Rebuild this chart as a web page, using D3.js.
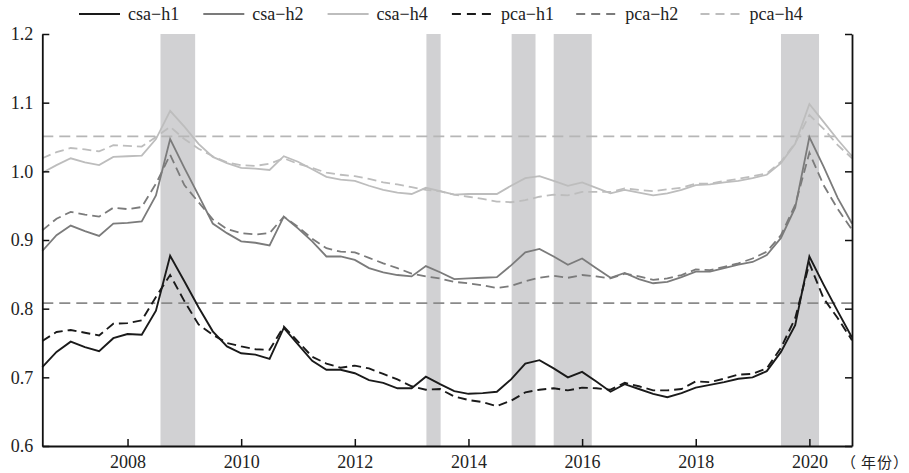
<!DOCTYPE html>
<html>
<head>
<meta charset="utf-8">
<script src="https://cdn.jsdelivr.net/npm/d3@7"></script>
<style>
  html, body { margin: 0; padding: 0; background: #fff; }
  svg { display: block; }
</style>
</head>
<body>
<svg id="chart" width="909" height="473"></svg>
<script>
// Quarterly observations
const quarters = [
  "2006Q3","2006Q4",
  "2007Q1","2007Q2","2007Q3","2007Q4",
  "2008Q1","2008Q2","2008Q3","2008Q4",
  "2009Q1","2009Q2","2009Q3","2009Q4",
  "2010Q1","2010Q2","2010Q3","2010Q4",
  "2011Q1","2011Q2","2011Q3","2011Q4",
  "2012Q1","2012Q2","2012Q3","2012Q4",
  "2013Q1","2013Q2","2013Q3","2013Q4",
  "2014Q1","2014Q2","2014Q3","2014Q4",
  "2015Q1","2015Q2","2015Q3","2015Q4",
  "2016Q1","2016Q2","2016Q3","2016Q4",
  "2017Q1","2017Q2","2017Q3","2017Q4",
  "2018Q1","2018Q2","2018Q3","2018Q4",
  "2019Q1","2019Q2","2019Q3","2019Q4",
  "2020Q1","2020Q2","2020Q3","2020Q4"
];

const csaH1 = [0.715,0.737,0.752,0.744,0.738,0.757,0.763,0.762,0.797,0.877,0.840,0.802,0.767,0.745,0.735,0.733,0.727,0.772,0.748,0.724,0.711,0.711,0.706,0.696,0.692,0.684,0.684,0.701,0.690,0.680,0.676,0.677,0.679,0.697,0.720,0.725,0.713,0.700,0.708,0.694,0.679,0.690,0.683,0.676,0.671,0.677,0.685,0.689,0.693,0.698,0.700,0.709,0.737,0.776,0.876,0.835,0.796,0.758];
const csaH2 = [0.884,0.907,0.921,0.913,0.906,0.924,0.925,0.927,0.965,1.047,1.005,0.965,0.924,0.910,0.898,0.896,0.892,0.934,0.917,0.898,0.876,0.876,0.871,0.859,0.853,0.849,0.847,0.862,0.853,0.843,0.844,0.845,0.846,0.863,0.882,0.887,0.876,0.864,0.873,0.859,0.845,0.852,0.843,0.837,0.839,0.846,0.854,0.854,0.859,0.864,0.868,0.878,0.903,0.947,1.050,1.007,0.961,0.924];
const csaH4 = [0.998,1.009,1.019,1.013,1.009,1.021,1.022,1.023,1.047,1.088,1.065,1.040,1.021,1.012,1.005,1.004,1.002,1.022,1.014,1.003,0.992,0.988,0.986,0.979,0.973,0.969,0.967,0.976,0.971,0.966,0.967,0.967,0.967,0.979,0.990,0.993,0.986,0.979,0.984,0.976,0.968,0.973,0.969,0.965,0.968,0.973,0.980,0.981,0.984,0.986,0.990,0.995,1.012,1.040,1.098,1.072,1.046,1.022];
const pcaH1 = [0.753,0.766,0.769,0.765,0.761,0.778,0.779,0.783,0.817,0.849,0.811,0.777,0.762,0.750,0.745,0.741,0.740,0.774,0.752,0.730,0.720,0.714,0.717,0.713,0.705,0.697,0.687,0.682,0.683,0.672,0.667,0.664,0.658,0.666,0.678,0.682,0.684,0.681,0.685,0.684,0.682,0.692,0.687,0.681,0.681,0.683,0.694,0.693,0.698,0.704,0.705,0.713,0.743,0.786,0.866,0.815,0.786,0.754];
const pcaH2 = [0.914,0.931,0.941,0.937,0.934,0.947,0.945,0.948,0.982,1.024,0.980,0.955,0.930,0.916,0.910,0.908,0.910,0.934,0.919,0.902,0.888,0.883,0.882,0.874,0.866,0.859,0.851,0.847,0.844,0.839,0.837,0.834,0.830,0.833,0.840,0.845,0.848,0.845,0.849,0.847,0.844,0.851,0.847,0.842,0.844,0.849,0.857,0.856,0.861,0.866,0.873,0.883,0.907,0.951,1.027,0.980,0.945,0.915];
const pcaH4 = [1.019,1.028,1.034,1.032,1.029,1.038,1.037,1.036,1.050,1.065,1.047,1.033,1.022,1.013,1.009,1.008,1.011,1.019,1.011,1.005,0.998,0.995,0.993,0.989,0.984,0.981,0.977,0.973,0.971,0.966,0.963,0.960,0.956,0.955,0.958,0.963,0.966,0.965,0.970,0.970,0.970,0.975,0.973,0.971,0.974,0.976,0.982,0.982,0.986,0.989,0.993,0.997,1.014,1.041,1.082,1.062,1.038,1.019];

// Shaded stress periods (decimal years)
const bandStarts = [2008.58, 2013.26, 2014.76, 2015.50, 2019.50];
const bandEnds   = [2009.19, 2013.51, 2015.18, 2016.17, 2020.17];

// Horizontal threshold levels
const thresholds = [1.051, 0.808];

const yTicks = [0.6, 0.7, 0.8, 0.9, 1.0, 1.1, 1.2];
const xTicks = [2008, 2010, 2012, 2014, 2016, 2018, 2020];

const seriesNames = ["csa−h1", "csa−h2", "csa−h4", "pca−h1", "pca−h2", "pca−h4"];
const seriesValues = [csaH1, csaH2, csaH4, pcaH1, pcaH2, pcaH4];
const seriesColors = ["#1a1a1a", "#7b7b7b", "#bdbdbd", "#1a1a1a", "#7b7b7b", "#bdbdbd"];
const seriesDashed = [false, false, false, true, true, true];
const thresholdColors = ["#b6b6b6", "#8a8a8a"];

// x-axis unit label, one glyph per slot
const unitChars = ["（", "年", "份", "）"];

const serif = "'Liberation Serif', 'Times New Roman', serif";
const svg = d3.select("#chart");
const plotLeft = 42.3, plotRight = 852, plotTop = 34, plotBottom = 446;

const toYear = q => +q.slice(0, 4) + (+q.slice(5) - 1) / 4;
const years = quarters.map(toYear);

const x = d3.scaleLinear().domain([2006.5, 2020.75]).range([plotLeft, plotRight]);
const y = d3.scaleLinear().domain([0.6, 1.2]).range([plotBottom, plotTop]);

// shaded periods
svg.append("g").selectAll("rect")
  .data(bandStarts.map((s, i) => [s, bandEnds[i]]))
  .join("rect")
  .attr("x", d => x(d[0]))
  .attr("width", d => x(d[1]) - x(d[0]))
  .attr("y", plotTop)
  .attr("height", plotBottom - plotTop)
  .attr("fill", "#d1d1d3");

// threshold lines
svg.append("g").selectAll("line")
  .data(thresholds)
  .join("line")
  .attr("x1", plotLeft).attr("x2", plotRight)
  .attr("y1", d => y(d)).attr("y2", d => y(d))
  .attr("stroke", (d, i) => thresholdColors[i])
  .attr("stroke-width", 1.8)
  .attr("stroke-dasharray", "11,6");

// series lines
const line = d3.line().x((d, i) => x(years[i])).y(d => y(d));
const order = [2, 5, 1, 4, 3, 0];
svg.append("g").selectAll("path")
  .data(order)
  .join("path")
  .attr("d", k => line(seriesValues[k]))
  .attr("fill", "none")
  .attr("stroke", k => seriesColors[k])
  .attr("stroke-width", k => k === 0 || k === 3 ? 1.9 : 1.8)
  .attr("stroke-linejoin", "miter")
  .attr("stroke-dasharray", k => seriesDashed[k] ? "9,5" : null);

// axes
const axisL = d3.axisLeft(y).tickValues(yTicks).tickFormat(d3.format(".1f"))
  .tickSize(-7).tickSizeOuter(0).tickPadding(9);
const gL = svg.append("g").attr("transform", `translate(${plotLeft},0)`).call(axisL);

const axisR = d3.axisRight(y).tickValues(yTicks).tickFormat("")
  .tickSize(-7).tickSizeOuter(0);
const gR = svg.append("g").attr("transform", `translate(${plotRight},0)`).call(axisR);

const axisB = d3.axisBottom(x).tickValues(xTicks).tickFormat(d3.format("d"))
  .tickSize(-7).tickSizeOuter(0).tickPadding(9);
const gB = svg.append("g").attr("transform", `translate(0,${plotBottom})`).call(axisB);

[gL, gR, gB].forEach(g => {
  g.attr("font-family", serif).attr("font-size", 18);
  g.select(".domain").attr("stroke", "#111").attr("stroke-width", 1.8);
  g.selectAll(".tick line").attr("stroke", "#111").attr("stroke-width", 1.5);
  g.selectAll(".tick text").attr("fill", "#222")
    .style("font-family", serif).style("font-size", "18px");
});

// x-axis unit label
svg.append("g").selectAll("text")
  .data(unitChars)
  .join("text")
  .attr("x", (d, i) => [841, 861, 877, 893][i])
  .attr("y", 468)
  .style("font-family", "'Noto Sans CJK SC', sans-serif")
  .style("font-size", "15px")
  .attr("fill", "#222")
  .text(d => d);

// legend
const legend = svg.append("g");
seriesNames.forEach((name, k) => {
  const tx = 128 + 124.3 * k;
  legend.append("line")
    .attr("x1", tx - 49).attr("x2", tx - 8)
    .attr("y1", 14).attr("y2", 14)
    .attr("stroke", seriesColors[k])
    .attr("stroke-width", 2)
    .attr("stroke-dasharray", seriesDashed[k] ? "9,6" : null);
  legend.append("text")
    .attr("x", tx).attr("y", 20)
    .style("font-family", serif)
    .style("font-size", "18px")
    .attr("fill", "#222")
    .text(name);
});
</script>
</body>
</html>
